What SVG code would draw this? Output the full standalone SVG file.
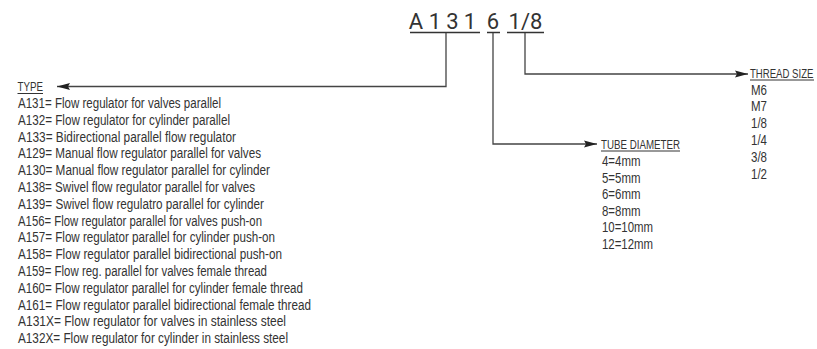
<svg xmlns="http://www.w3.org/2000/svg" width="817" height="349" viewBox="0 0 817 349">
<style>
  .t { font-family: "Liberation Sans", Arial, sans-serif; font-size: 14px; fill: #333; }
  .h { font-family: "Liberation Sans", Arial, sans-serif; font-size: 12px; fill: #333; }
  .code { font-family: Roboto, "Liberation Sans", sans-serif; font-size: 22px; fill: #333; text-anchor: middle; }
  .ul { stroke: #333; stroke-width: 1.5; fill: none; }
  .hul { stroke: #333; stroke-width: 1; fill: none; }
  .conn { stroke: #444; stroke-width: 1.3; fill: none; }
</style>
<defs>
  <marker id="arr" markerUnits="userSpaceOnUse" markerWidth="14" markerHeight="8" refX="13" refY="4" orient="auto">
    <path d="M0,0.5 L13,4 L0,7.5 L2,4 z" fill="#222"/>
  </marker>
</defs>
<rect width="817" height="349" fill="#fff"/>

<g id="code">
  <text class="code" x="416" y="29">A</text>
  <text class="code" x="435" y="29">1</text>
  <text class="code" x="452.5" y="29">3</text>
  <text class="code" x="470" y="29">1</text>
  <text class="code" x="493" y="29">6</text>
  <text class="code" x="525.5" y="29">1/8</text>
  <line class="ul" x1="410" y1="32.5" x2="480" y2="32.5"/>
  <line class="ul" x1="487" y1="32.5" x2="500" y2="32.5"/>
  <line class="ul" x1="507" y1="32.5" x2="544" y2="32.5"/>
</g>

<g id="connectors">
  <path class="conn" d="M446,33 V86.5 H57" marker-end="url(#arr)"/>
  <path class="conn" d="M493,33 V144 H597" marker-end="url(#arr)"/>
  <path class="conn" d="M525,33 V74 H748" marker-end="url(#arr)"/>
</g>

<g id="type">
  <text class="h" x="17.5" y="91" textLength="25.5" lengthAdjust="spacingAndGlyphs">TYPE</text>
  <line class="hul" x1="17.5" y1="93.5" x2="43" y2="93.5"/>
  <text class="t" x="18" y="108" textLength="203" lengthAdjust="spacingAndGlyphs">A131= Flow regulator for valves parallel</text>
  <text class="t" x="18" y="124.8" textLength="212" lengthAdjust="spacingAndGlyphs">A132= Flow regulator for cylinder parallel</text>
  <text class="t" x="18" y="141.6" textLength="218" lengthAdjust="spacingAndGlyphs">A133= Bidirectional parallel flow regulator</text>
  <text class="t" x="18" y="158.4" textLength="243" lengthAdjust="spacingAndGlyphs">A129= Manual flow regulator parallel for valves</text>
  <text class="t" x="18" y="175.2" textLength="252" lengthAdjust="spacingAndGlyphs">A130= Manual flow regulator parallel for cylinder</text>
  <text class="t" x="18" y="192" textLength="237" lengthAdjust="spacingAndGlyphs">A138= Swivel flow regulator parallel for valves</text>
  <text class="t" x="18" y="208.8" textLength="246" lengthAdjust="spacingAndGlyphs">A139= Swivel flow regulatro parallel for cylinder</text>
  <text class="t" x="18" y="225.6" textLength="244" lengthAdjust="spacingAndGlyphs">A156= Flow regulator parallel for valves push-on</text>
  <text class="t" x="18" y="242.4" textLength="257" lengthAdjust="spacingAndGlyphs">A157= Flow regulator parallel for cylinder push-on</text>
  <text class="t" x="18" y="259.2" textLength="264" lengthAdjust="spacingAndGlyphs">A158= Flow regulator parallel bidirectional push-on</text>
  <text class="t" x="18" y="276" textLength="249" lengthAdjust="spacingAndGlyphs">A159= Flow reg. parallel for valves female thread</text>
  <text class="t" x="18" y="292.8" textLength="285" lengthAdjust="spacingAndGlyphs">A160= Flow regulator parallel for cylinder female thread</text>
  <text class="t" x="18" y="309.6" textLength="293" lengthAdjust="spacingAndGlyphs">A161= Flow regulator parallel bidirectional female thread</text>
  <text class="t" x="18" y="326.4" textLength="268" lengthAdjust="spacingAndGlyphs">A131X= Flow regulator for valves in stainless steel</text>
  <text class="t" x="18" y="343.2" textLength="270" lengthAdjust="spacingAndGlyphs">A132X= Flow regulator for cylinder in stainless steel</text>
</g>

<g id="tube">
  <text class="h" x="601" y="148.5" textLength="79" lengthAdjust="spacingAndGlyphs">TUBE DIAMETER</text>
  <line class="hul" x1="601" y1="151" x2="680" y2="151"/>
  <text class="t" x="602" y="166" textLength="38.5" lengthAdjust="spacingAndGlyphs">4=4mm</text>
  <text class="t" x="602" y="182.6" textLength="38.5" lengthAdjust="spacingAndGlyphs">5=5mm</text>
  <text class="t" x="602" y="199.2" textLength="38.5" lengthAdjust="spacingAndGlyphs">6=6mm</text>
  <text class="t" x="602" y="215.8" textLength="38.5" lengthAdjust="spacingAndGlyphs">8=8mm</text>
  <text class="t" x="602" y="232.4" textLength="51" lengthAdjust="spacingAndGlyphs">10=10mm</text>
  <text class="t" x="602" y="249" textLength="51" lengthAdjust="spacingAndGlyphs">12=12mm</text>
</g>

<g id="thread">
  <text class="h" transform="translate(750,77.5) scale(0.8,1)" x="0" y="0">THREAD SIZE</text>
  <line class="hul" x1="750" y1="80" x2="814" y2="80"/>
  <text class="t" x="751" y="94.5" textLength="16" lengthAdjust="spacingAndGlyphs">M6</text>
  <text class="t" x="751" y="111.3" textLength="16" lengthAdjust="spacingAndGlyphs">M7</text>
  <text class="t" x="751" y="128.1" textLength="16" lengthAdjust="spacingAndGlyphs">1/8</text>
  <text class="t" x="751" y="144.9" textLength="16" lengthAdjust="spacingAndGlyphs">1/4</text>
  <text class="t" x="751" y="161.7" textLength="16" lengthAdjust="spacingAndGlyphs">3/8</text>
  <text class="t" x="751" y="178.5" textLength="16" lengthAdjust="spacingAndGlyphs">1/2</text>
</g>
</svg>
